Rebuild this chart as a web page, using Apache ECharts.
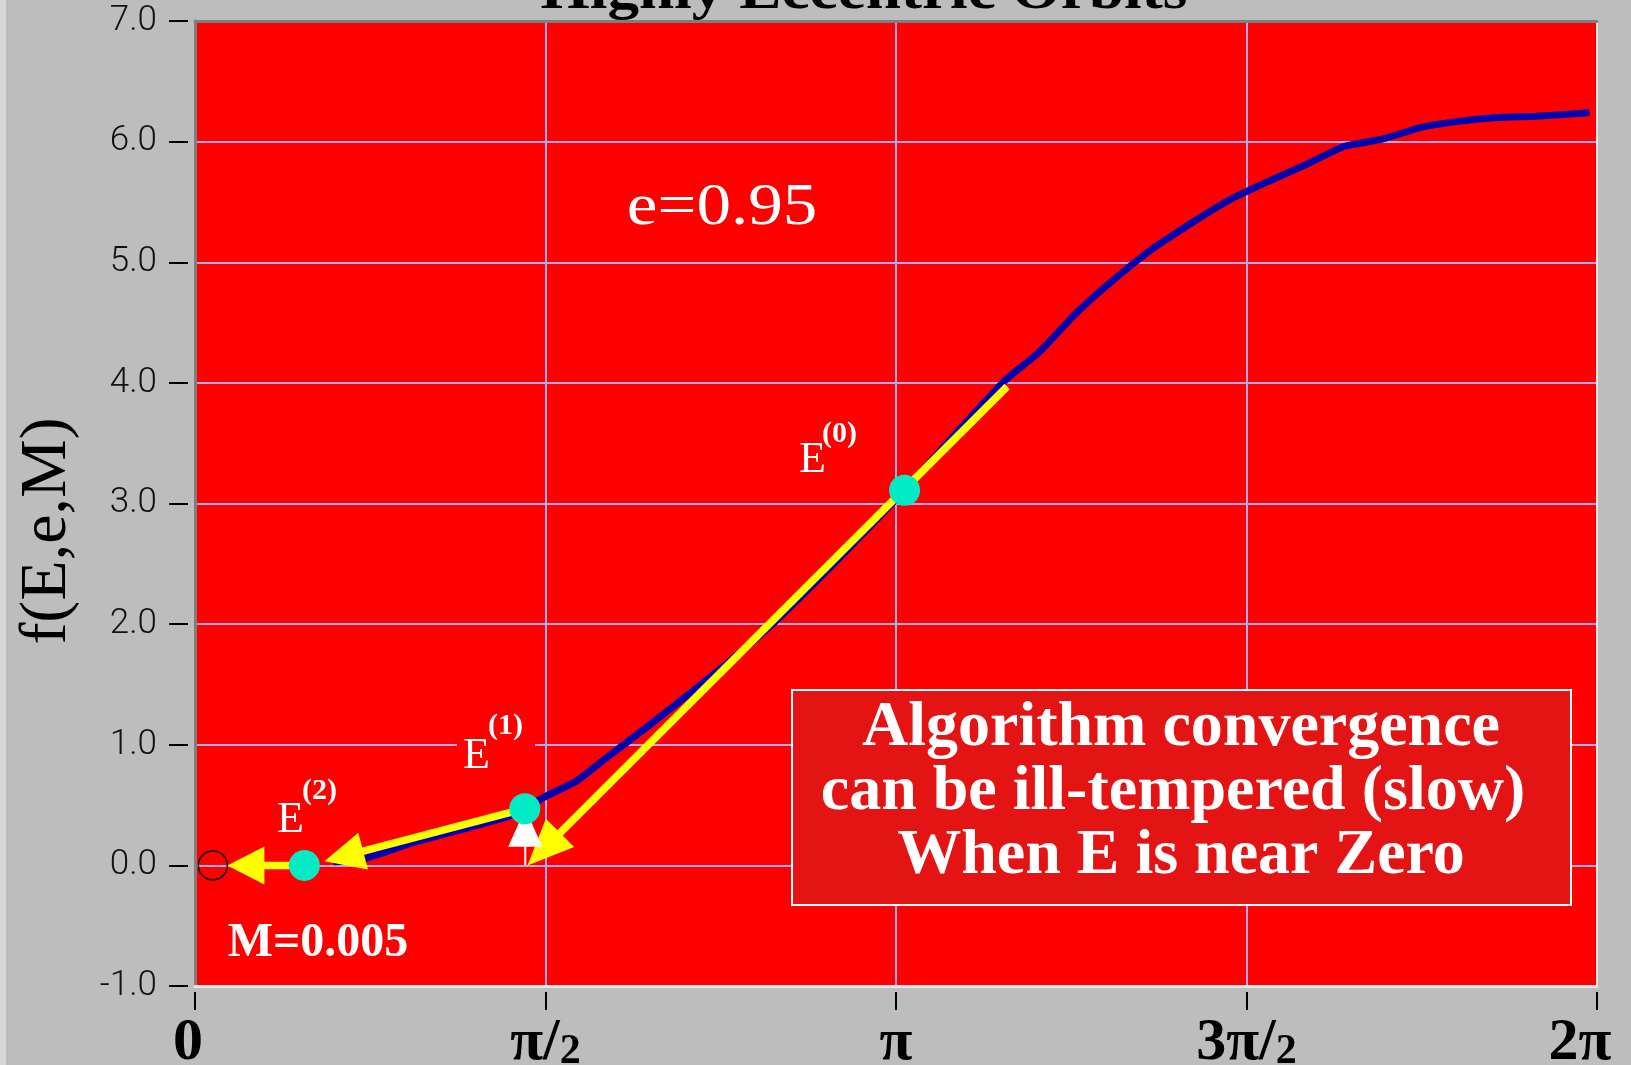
<!DOCTYPE html>
<html><head><meta charset="utf-8">
<script src="https://cdn.jsdelivr.net/npm/echarts@6/dist/echarts.min.js"></script>
<style>html,body{margin:0;padding:0;background:#BDBDBD;}#c{width:1631px;height:1065px;}</style>
</head><body><div id="c"></div>
<script>
// ---- data ----
const xTickLabels = ['0', 'π/2', 'π', '3π/2', '2π'];
const curveE = [0.62, 0.75, 0.98, 1.20, 1.41, 1.58, 1.71, 1.85, 2.02, 2.20, 2.40, 2.60, 2.90, 3.18, 3.40, 3.63, 3.78, 3.95, 4.12, 4.29, 4.47, 4.64, 4.81, 4.98, 5.15, 5.32, 5.50, 5.67, 5.84, 6.01, 6.25];
const curveF = [0.03, 0.05, 0.19, 0.30, 0.41, 0.58, 0.70, 0.90, 1.14, 1.40, 1.70, 2.02, 2.57, 3.11, 3.56, 4.02, 4.25, 4.58, 4.86, 5.11, 5.33, 5.52, 5.67, 5.81, 5.96, 6.02, 6.12, 6.17, 6.20, 6.21, 6.24];
const iterE = [3.18, 1.478, 0.49];      // E(0), E(1), E(2)
const iterF = [3.11, 0.47, 0.00];
const rootE = [0.08];
const rootF = [0.00];
const tangentStartE = [3.64, 1.478, 0.49];
const tangentStartF = [3.97, 0.47, 0.00];
const tangentEndE = [1.49, 0.58, 0.145];
const tangentEndF = [0.00, 0.035, 0.00];
const liftStartE = [1.48];
const liftStartF = [0.00];
const liftEndE = [1.48];
const liftEndF = [0.47];
const yMin = -1, yMax = 7, yStep = 1;

// ---- styles ----
const tangentHeads = [[46, 40], [40, 38], [37, 38]];
const SERIF = '"Liberation Serif","Times New Roman",serif';

function arrowRender(color, lw, heads) {
  return function (params, api) {
    const p1 = api.coord([api.value(0), api.value(1)]);
    const p2 = api.coord([api.value(2), api.value(3)]);
    const h = heads[params.dataIndex] || heads[0];
    const L = h[0], W = h[1];
    const dx = p2[0] - p1[0], dy = p2[1] - p1[1];
    const len = Math.sqrt(dx * dx + dy * dy) || 1;
    const ux = dx / len, uy = dy / len, nx = -uy, ny = ux;
    const bx = p2[0] - ux * L, by = p2[1] - uy * L;
    return {
      type: 'group', children: [
        { type: 'line', shape: { x1: p1[0], y1: p1[1], x2: bx + ux * 3, y2: by + uy * 3 }, style: { stroke: color, lineWidth: lw } },
        { type: 'polygon', shape: { points: [[p2[0], p2[1]], [bx + nx * W / 2, by + ny * W / 2], [bx - nx * W / 2, by - ny * W / 2]] }, style: { fill: color } }
      ]
    };
  };
}

const chart = echarts.init(document.getElementById('c'), null, { renderer: 'canvas' });
const halfPi = Math.PI / 2;
const xBase = { type: 'value', min: 0, max: 2 * Math.PI, interval: halfPi };
const yBase = { type: 'value', min: yMin, max: yMax, interval: yStep };
const onlyLine = (color, w) => ({ axisLine: { show: true, onZero: false, lineStyle: { color, width: w } }, axisTick: { show: false }, axisLabel: { show: false }, splitLine: { show: false } });

function txt(text, x, y, font, extra, elExtra) {
  return Object.assign({ type: 'text', x, y, z: 10, style: Object.assign({ text, x: 0, y: 0, font, fill: '#fff', align: 'left', verticalAlign: 'middle' }, extra || {}) }, elExtra || {});
}

const labelFont = { fontFamily: SERIF, fontWeight: 'bold', fontSize: 60, lineHeight: 60, color: '#000', verticalAlign: 'bottom' };

chart.setOption({
  animation: false,
  backgroundColor: '#BDBDBD',
  grid: { left: 195, right: 34, top: 21, bottom: 79, show: true, backgroundColor: '#FF0000', borderWidth: 0, outerBoundsMode: 'none' },
  xAxis: [
    Object.assign({}, xBase, {
      position: 'bottom', offset: 6,
      axisLine: { show: false, onZero: false },
      axisTick: { show: true, length: 18, lineStyle: { color: '#000', width: 2 } },
      splitLine: { show: true, lineStyle: { color: '#ABABF2', width: 2 } },
      axisLabel: {
        margin: 21,
        formatter: function (v) {
          const i = Math.round(v / halfPi);
          const t = xTickLabels[i] || '';
          if (i === 0) return '{z|' + t + '}';
          if (i === xTickLabels.length - 1) return '{r|' + t + '}';
          if (t.endsWith('/2')) return '{a|' + t.slice(0, -1) + '}{b|2}';
          return '{a|' + t + '}';
        },
        rich: {
          a: labelFont,
          z: Object.assign({}, labelFont, { padding: [0, 14, 0, 0] }),
          r: Object.assign({}, labelFont, { padding: [0, 34, 0, 0] }),
          b: Object.assign({}, labelFont, { fontSize: 42 })
        }
      }
    }),
    Object.assign({}, xBase, { position: 'bottom', offset: 0 }, onlyLine('#E6E6E6', 3)),
    Object.assign({}, xBase, { position: 'top', offset: 0 }, onlyLine('#7E7E7E', 3))
  ],
  yAxis: [
    Object.assign({}, yBase, {
      position: 'left', offset: 7,
      axisLine: { show: false, onZero: false },
      axisTick: { show: true, length: 19, lineStyle: { color: '#000', width: 2 } },
      splitLine: { show: true, lineStyle: { color: '#ABABF2', width: 2 } },
      axisLabel: { margin: 31, formatter: v => v.toFixed(1), fontFamily: 'Roboto', fontWeight: 300, fontSize: 35, color: '#111' }
    }),
    Object.assign({}, yBase, { position: 'left', offset: 0 }, onlyLine('#7E7E7E', 3)),
    Object.assign({}, yBase, { position: 'right', offset: 0 }, onlyLine('#E6E6E6', 2))
  ],
  series: [
    {
      type: 'line', name: 'f', z: 2, showSymbol: false, silent: true, smooth: 0.2,
      data: curveE.map((e, i) => [e, curveF[i]]),
      lineStyle: { color: '#0000AE', width: 7 }
    },
    {
      type: 'custom', name: 'tangents', z: 3, silent: true,
      renderItem: arrowRender('#FFFF00', 7.5, tangentHeads),
      encode: { x: [0, 2], y: [1, 3] },
      data: tangentStartE.map((e, i) => [e, tangentStartF[i], tangentEndE[i], tangentEndF[i]])
    },
    {
      type: 'custom', name: 'lift', z: 4, silent: true,
      renderItem: arrowRender('#FFFFFF', 2, [[38, 34]]),
      encode: { x: [0, 2], y: [1, 3] },
      data: liftStartE.map((e, i) => [e, liftStartF[i], liftEndE[i], liftEndF[i]])
    },
    {
      type: 'scatter', name: 'iterates', z: 5, silent: true, symbolSize: 31,
      itemStyle: { color: '#00ECC4', opacity: 1 },
      data: iterE.map((e, i) => [e, iterF[i]])
    },
    {
      type: 'scatter', name: 'root', z: 5, silent: true, symbolSize: 29,
      itemStyle: { color: 'rgba(0,0,0,0)', borderColor: '#111', borderWidth: 1.5, opacity: 1 },
      data: rootE.map((e, i) => [e, rootF[i]])
    }
  ],
  graphic: [
    { type: 'rect', z: 0, shape: { x: 0, y: 0, width: 6, height: 1065 }, style: { fill: '#D8D8D8' } },
    txt('Highly Eccentric Orbits', 864, -6, 'bold 56px ' + SERIF, { fill: '#000', align: 'center' }, { scaleX: 1.13 }),
    txt('f(E,e,M)', 48, 531, '66px ' + SERIF, { fill: '#000', align: 'center' }, { rotation: Math.PI / 2 }),
    txt('e=0.95', 722, 208, '60px ' + SERIF, { align: 'center' }, { scaleX: 1.15 }),
    txt('M=0.005', 318, 944, 'bold 48px ' + SERIF, { align: 'center' }),
    { type: 'rect', z: 1, shape: { x: 457, y: 712, width: 78, height: 60 }, style: { fill: '#FF0000' } },
    txt('E', 463, 756, '44px ' + SERIF),
    txt('(1)', 488, 726, 'bold 30px ' + SERIF),
    txt('E', 277, 820, '44px ' + SERIF),
    txt('(2)', 302, 791, 'bold 30px ' + SERIF),
    txt('E', 799, 460, '44px ' + SERIF),
    txt('(0)', 822, 434, 'bold 30px ' + SERIF),
    { type: 'rect', z: 9, shape: { x: 792, y: 690, width: 779, height: 215 }, style: { fill: '#E41414', stroke: '#FFFFFF', lineWidth: 2 } },
    txt('Algorithm convergence\ncan be ill-tempered (slow) \nWhen E is near Zero', 1181, 792, 'bold 64px ' + SERIF, { align: 'center', lineHeight: 64 })
  ]
});
</script></body></html>
